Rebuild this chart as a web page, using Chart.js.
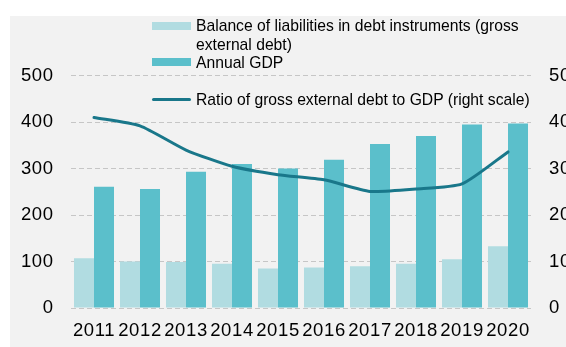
<!DOCTYPE html>
<html>
<head>
<meta charset="utf-8">
<script src="https://cdn.jsdelivr.net/npm/chart.js@4.4.1/dist/chart.umd.min.js"></script>
<style>
  html, body { margin: 0; padding: 0; background: #ffffff; }
  body { width: 566px; height: 347px; overflow: hidden; position: relative;
         font-family: "Liberation Sans", Arial, Helvetica, sans-serif; }
  #panel { position: absolute; left: 10px; top: 16px; right: 0; bottom: 0; background: #f2f2f2; }
  #chart { position: absolute; left: 0; top: 0; }
  #legend { position: absolute; left: 0; top: 0; width: 566px; height: 120px; pointer-events: none; }
  .lg-item { position: absolute; left: 151px; }
  .lg-swatch { position: absolute; left: 1px; width: 39px; }
  .lg-text { position: absolute; left: 45px; width: 345px; font-size: 15.7px; line-height: 19.3px; color: #000; white-space: normal; }
</style>
</head>
<body>
<div id="panel"></div>
<canvas id="chart" width="580" height="347" style="width:580px;height:347px"></canvas>
<div id="legend"></div>
<script>
// Years on the category axis
const years = ['2011', '2012', '2013', '2014', '2015', '2016', '2017', '2018', '2019', '2020'];

// Gross external debt (balance of liabilities in debt instruments), left scale
const grossExternalDebt = [107, 100, 99, 95, 85, 87, 90, 95, 105, 133];

// Annual GDP, left scale
const annualGdp = [261, 256, 293, 310, 300, 319, 353, 370, 395, 397];

// Ratio of gross external debt to GDP, in percent, right scale
const debtToGdpRatio = [41.0, 39.2, 34.0, 30.5, 28.7, 27.6, 25.1, 25.6, 26.7, 33.6];

// Axis tick values
const leftTicks = [0, 100, 200, 300, 400, 500];
const rightTicks = [0, 10, 20, 30, 40, 50];

const seriesLabels = [
  'Balance of liabilities in debt instruments (gross external debt)',
  'Annual GDP',
  'Ratio of gross external debt to GDP (right scale)'
];

const colors = { debt: '#b1dce1', gdp: '#5bbfcb', ratio: '#19778a', grid: '#c6c6c6', text: '#000000' };
const FONT = '"Liberation Sans", Arial, Helvetica, sans-serif';
const TICK_FONT = { family: FONT, size: 18.5 };

// Axis numbers are set slightly wide: a little letter spacing while the scales draw
const tickSpacing = {
  id: 'tickSpacing',
  beforeDraw(c) { c.ctx.letterSpacing = '0.6px'; },
  beforeDatasetsDraw(c) { c.ctx.letterSpacing = '0px'; }
};

const chart = new Chart(document.getElementById('chart'), {
  data: {
    labels: years,
    datasets: [
      {
        type: 'bar', label: seriesLabels[0], data: grossExternalDebt,
        backgroundColor: colors.debt, borderWidth: 0, yAxisID: 'y', order: 2,
        categoryPercentage: 0.87, barPercentage: 1.0
      },
      {
        type: 'bar', label: seriesLabels[1], data: annualGdp,
        backgroundColor: colors.gdp, borderWidth: 0, yAxisID: 'y', order: 2,
        categoryPercentage: 0.87, barPercentage: 1.0
      },
      {
        type: 'line', label: seriesLabels[2], data: debtToGdpRatio,
        borderColor: colors.ratio, backgroundColor: colors.ratio, borderWidth: 3,
        pointRadius: 0, tension: 0.2, yAxisID: 'y1', order: 0,
        borderCapStyle: 'round', borderJoinStyle: 'round'
      }
    ]
  },
  plugins: [tickSpacing],
  options: {
    responsive: false,
    animation: false,
    events: [],
    layout: { padding: { top: 75.7, left: 0, right: 0, bottom: 0 } },
    plugins: { legend: { display: false }, tooltip: { enabled: false } },
    scales: {
      x: {
        type: 'category',
        offset: true,
        grid: { display: false, drawTicks: false },
        border: { display: false },
        ticks: { color: colors.text, font: TICK_FONT, padding: 12, maxRotation: 0, autoSkip: false },
        afterFit: (s) => { s.height = 39; }
      },
      y: {
        position: 'left',
        min: leftTicks[0], max: leftTicks[leftTicks.length - 1],
        afterBuildTicks: (s) => { s.ticks = leftTicks.map(v => ({ value: v })); },
        grid: { color: colors.grid, lineWidth: 1, drawTicks: false },
        border: { display: false, dash: [5, 3] },
        ticks: { color: colors.text, font: TICK_FONT, padding: 17.4 },
        afterFit: (s) => { s.width = 71; }
      },
      y1: {
        position: 'right',
        min: rightTicks[0], max: rightTicks[rightTicks.length - 1],
        afterBuildTicks: (s) => { s.ticks = rightTicks.map(v => ({ value: v })); },
        grid: { drawOnChartArea: false, drawTicks: false },
        border: { display: false },
        ticks: { color: colors.text, font: TICK_FONT, padding: 18 },
        afterFit: (s) => { s.width = 49; }
      }
    }
  }
});

// Legend laid over the top of the plot, built from the chart's own datasets
(function buildLegend() {
  const host = document.getElementById('legend');
  const rows = [
    { ds: 0, top: 16, swatchTop: 5.7, swatchH: 8 },
    { ds: 1, top: 52.7, swatchTop: 5.6, swatchH: 8 },
    { ds: 2, top: 89.7, swatchTop: 8.1, swatchH: 3 }
  ];
  rows.forEach(r => {
    const ds = chart.data.datasets[r.ds];
    const item = document.createElement('div');
    item.className = 'lg-item';
    item.style.top = r.top + 'px';
    const sw = document.createElement('div');
    sw.className = 'lg-swatch';
    sw.style.top = r.swatchTop + 'px';
    sw.style.height = r.swatchH + 'px';
    sw.style.background = ds.type === 'line' ? ds.borderColor : ds.backgroundColor;
    if (ds.type === 'line') sw.style.borderRadius = '1.5px';
    const tx = document.createElement('div');
    tx.className = 'lg-text';
    tx.textContent = ds.label;
    item.appendChild(sw);
    item.appendChild(tx);
    host.appendChild(item);
  });
})();
</script>
</body>
</html>
